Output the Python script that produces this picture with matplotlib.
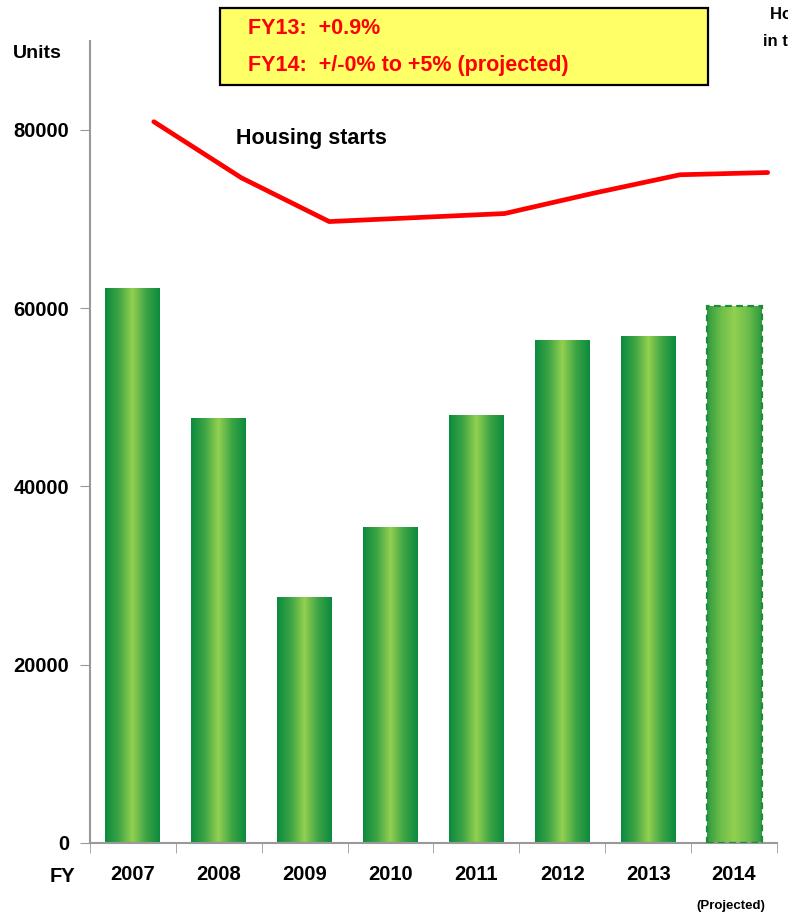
import numpy as np
import matplotlib.pyplot as plt
from matplotlib.colors import LinearSegmentedColormap
from matplotlib.patches import Rectangle

plt.rcParams['font.family'] = ['Liberation Sans Narrow', 'Liberation Sans', 'DejaVu Sans']

# FY orders (units) and housing starts (scaled line)
years = ['2007', '2008', '2009', '2010', '2011', '2012', '2013', '2014']
orders = [62300, 47700, 27550, 35400, 47950, 56450, 56900, 60250]
starts = [80900, 74600, 69700, 70150, 70600, 72850, 74950, 75200]

fig = plt.figure(figsize=(7.88, 9.16), dpi=100)
ax = fig.add_axes([0.114, 0.0797, 0.872, 0.876])

x = np.arange(len(years))
w = 0.64
grad = LinearSegmentedColormap.from_list(
    'g', ['#0b8a3e', '#3da445', '#92d050', '#3da445', '#0b8a3e'])
grad_proj = LinearSegmentedColormap.from_list(
    'gp', ['#2e9a40', '#6cbd4a', '#92d050', '#6cbd4a', '#2e9a40'])
strip = np.linspace(0, 1, 256).reshape(1, -1)

bars = ax.bar(x, orders, width=w, color='none', zorder=2)
for i, b in enumerate(bars):
    cm = grad_proj if i == len(bars) - 1 else grad
    im = ax.imshow(strip, cmap=cm, aspect='auto', zorder=2,
                   extent=[b.get_x(), b.get_x() + w, 0, b.get_height()])
    im.set_clip_path(b)
last = bars[-1]
ax.add_patch(Rectangle((last.get_x(), 0), w, last.get_height(), fill=False,
                       ec='#1e8a3c', lw=1.6, ls=(0, (3, 2)), zorder=3))

# housing starts line sits on its own slightly shifted category scale
line_x = 0.245 + x * 1.021
ax.plot(line_x, starts, color='#ff0000', lw=3.4, solid_capstyle='round',
        solid_joinstyle='round', zorder=4)
ax.text(1.2, 78400, 'Housing starts', fontsize=15.5, fontweight='bold', zorder=5)

ax.set_xlim(-0.5, 7.5)
ax.set_ylim(0, 90000)
ax.set_yticks([0, 20000, 40000, 60000, 80000])
ax.set_xticks(x)
ax.set_xticklabels(years)
ax.set_xticks(np.arange(-0.5, 8, 1), minor=True)
ax.tick_params(axis='x', which='major', length=0, pad=16, labelsize=14.5)
ax.tick_params(axis='x', which='minor', length=7, color='#999999', direction='out')
ax.tick_params(axis='y', length=7, color='#999999', labelsize=14.5, pad=8)
for lab in ax.get_xticklabels() + ax.get_yticklabels():
    lab.set_fontweight('bold')
for s in ['top', 'right']:
    ax.spines[s].set_visible(False)
for s in ['left', 'bottom']:
    ax.spines[s].set_color('#999999')
    ax.spines[s].set_linewidth(1.5)

fig.text(13 / 788, 1 - 53 / 916, 'Units', fontsize=14, fontweight='bold', va='center')
fig.text(50 / 788, 1 - 877 / 916, 'FY', fontsize=14.5, fontweight='bold', va='center')
fig.text(765 / 788, 1 - 906 / 916, '(Projected)', fontsize=9.5, fontweight='bold',
         ha='right', va='center')

# note box at top
fig.patches.append(Rectangle((220 / 788, 1 - 85 / 916), 488 / 788, 77 / 916,
                             transform=fig.transFigure, fc='#ffff66', ec='black',
                             lw=1.6, zorder=5))
fig.text(248 / 788, 1 - 28 / 916, 'FY13:  +0.9%', fontsize=15.5, fontweight='bold',
         color='#ff0000', va='center', zorder=6)
fig.text(248 / 788, 1 - 66 / 916, 'FY14:  +/-0% to +5% (projected)', fontsize=15.5,
         fontweight='bold', color='#ff0000', va='center', zorder=6)

# side note, runs off the page edge
fig.text(770 / 788, 1 - 15 / 916, 'Housing starts', fontsize=12, fontweight='bold',
         ha='left', va='center')
fig.text(763 / 788, 1 - 42 / 916, 'in the', fontsize=12, fontweight='bold',
         ha='left', va='center')

fig.savefig('out.png', dpi=100)
